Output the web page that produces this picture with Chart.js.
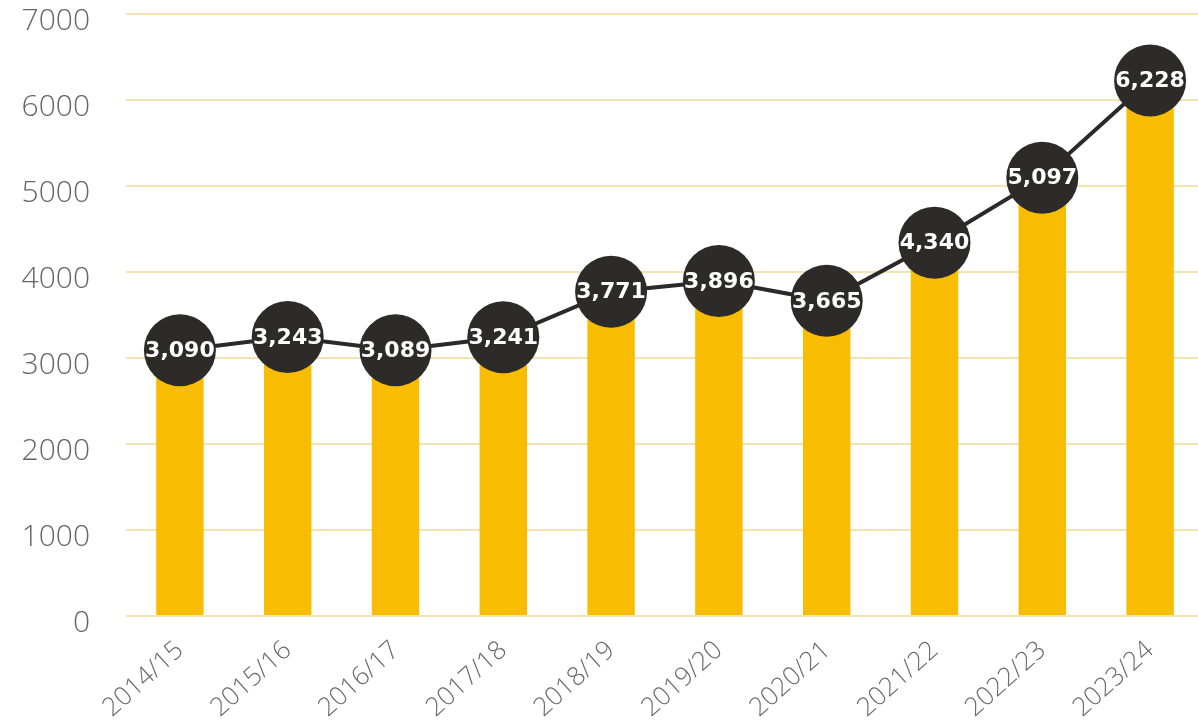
<!DOCTYPE html>
<html>
<head>
<meta charset="utf-8">
<script src="https://cdn.jsdelivr.net/npm/chart.js@4/dist/chart.umd.min.js"></script>
<style>
  html, body { margin: 0; padding: 0; background: #fff; overflow: hidden; }
  #wrap { width: 1204px; height: 727px; }
</style>
</head>
<body>
<div id="wrap"><canvas id="myChart"></canvas></div>
<script>
const years = ['2014/15', '2015/16', '2016/17', '2017/18', '2018/19', '2019/20', '2020/21', '2021/22', '2022/23', '2023/24'];
const totals = [3090, 3243, 3089, 3241, 3771, 3896, 3665, 4340, 5097, 6228];
const yTicks = [0, 1000, 2000, 3000, 4000, 5000, 6000, 7000];

// draws the value inside each dark circle
const circleLabels = {
  id: 'circleLabels',
  afterDatasetsDraw(chart) {
    const ctx = chart.ctx;
    const meta = chart.getDatasetMeta(1);
    ctx.save();
    ctx.font = 'bold 22px "DejaVu Sans"';
    ctx.fillStyle = '#ffffff';
    ctx.textAlign = 'center';
    ctx.textBaseline = 'middle';
    meta.data.forEach((pt, i) => {
      ctx.fillText(totals[i].toLocaleString('en-US'), pt.x, pt.y + 1);
    });
    ctx.restore();
  }
};

const ctx = document.getElementById('myChart').getContext('2d');
new Chart(ctx, {
  data: {
    labels: years,
    datasets: [
      {
        type: 'bar',
        data: totals,
        backgroundColor: '#F8BD00',
        categoryPercentage: 1,
        barPercentage: 0.44,
        order: 2
      },
      {
        type: 'line',
        data: totals,
        borderColor: '#2b2929',
        borderWidth: 4,
        tension: 0,
        pointRadius: 36,
        pointHoverRadius: 36,
        pointBackgroundColor: '#2d2a2a',
        pointBorderWidth: 0,
        clip: false,
        order: 1
      }
    ]
  },
  options: {
    responsive: true,
    maintainAspectRatio: false,
    animation: false,
    layout: { autoPadding: false, padding: { top: 14, right: 0, left: 0, bottom: 0 } },
    plugins: {
      legend: { display: false },
      tooltip: { enabled: false }
    },
    scales: {
      x: {
        grid: { display: false },
        border: { display: false },
        ticks: {
          color: '#6a6a6a',
          font: { family: '"Open Sans"', size: 26, weight: 300 },
          maxRotation: 42,
          minRotation: 42,
          padding: 11
        },
        afterFit: (scale) => {
          scale.height = 111;
          scale.paddingLeft = 0;
          scale.paddingRight = 0;
        }
      },
      y: {
        min: 0,
        max: 7000,
        border: { display: false },
        grid: { color: '#F2E3B3', lineWidth: 2, drawTicks: false },
        afterBuildTicks: (scale) => { scale.ticks = yTicks.map(v => ({ value: v })); },
        ticks: {
          color: '#666666',
          font: { family: '"Open Sans"', size: 30, weight: 300 },
          padding: 36,
          labelOffset: 7,
          callback: (v) => String(v)
        },
        afterFit: (scale) => {
          scale.width = 126;
          scale.paddingTop = 0;
          scale.paddingBottom = 0;
        }
      }
    }
  },
  plugins: [circleLabels]
});
</script>
</body>
</html>
